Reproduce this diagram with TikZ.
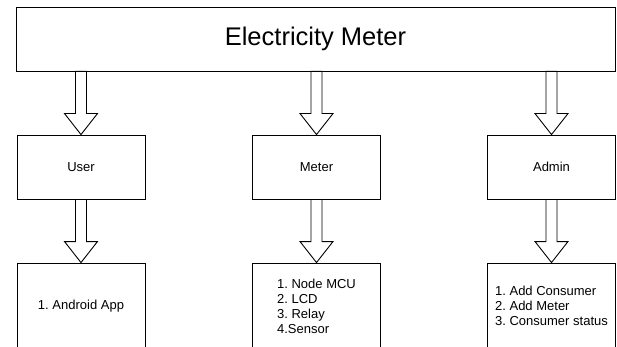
\documentclass[tikz,border=0pt]{standalone}
\usepackage{fontspec}
\setmainfont{Liberation Sans}
\usepackage{xcolor}
\usetikzlibrary{calc}
\frenchspacing

\begin{document}
\begin{tikzpicture}[x=1pt, y=-1pt,
        box/.style={rectangle, draw=black, line width=0.9pt, fill=white,
                    minimum width=128pt, minimum height=64pt, align=left,
                    inner sep=0pt, font=\fontsize{13}{15}\selectfont},
        fatarr/.style={draw=black, line width=0.9pt, fill=white, line join=miter}
      ]
        \useasboundingbox (0,0) rectangle (617,347);

        % top block
        \node[box, minimum width=599pt, font=\fontsize{25.5}{30}\selectfont]
          (meterbox) at (315.5,39) {Electricity Meter};

        % middle row
        \node[box] (user)  at (81,167)    {User};
        \node[box] (meter) at (316.5,167) {Meter};
        \node[box] (admin) at (551.5,167) {Admin};

        % bottom row
        \node[box, minimum height=86pt] (app)   at (81,306)    {1. Android App};
        \node[box, minimum height=86pt] (parts) at (316.5,306) {1. Node MCU\\2. LCD\\3. Relay\\4.Sensor};
        \node[box, minimum height=86pt] (tasks) at (551.5,306) {1. Add Consumer\\2. Add Meter\\3. Consumer status};

        % block arrows
        \foreach \a/\b in {meterbox/user, meterbox/meter, meterbox/admin,
                           user/app, meter/parts, admin/tasks}
          \draw[fatarr] ($(\b.north |- \a.south)+(-5.5,0)$)
            -- ($(\b.north)+(-5.5,-21)$) -- ($(\b.north)+(-16.5,-21)$)
            -- (\b.north)
            -- ($(\b.north)+(16.5,-21)$) -- ($(\b.north)+(5.5,-21)$)
            -- ($(\b.north |- \a.south)+(5.5,0)$) -- cycle;
      \end{tikzpicture}
\end{document}
